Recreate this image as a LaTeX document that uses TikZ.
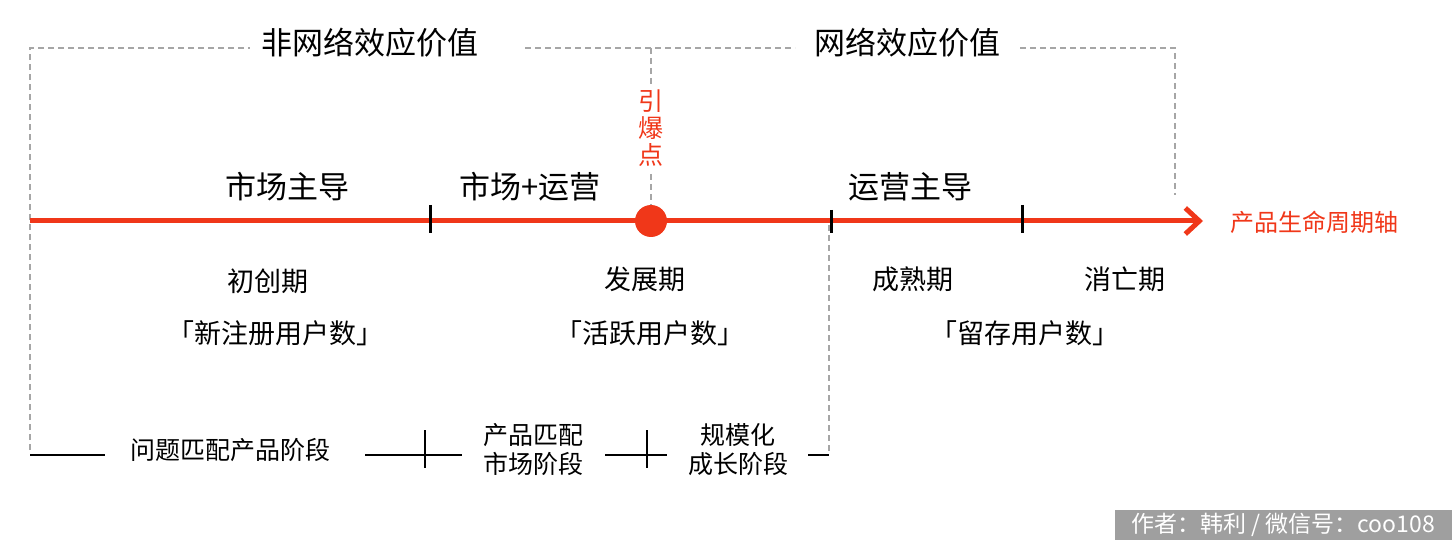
\documentclass[tikz,border=0pt]{standalone}
\usepackage{fontspec}
\setmainfont{Noto Sans CJK SC}
\usetikzlibrary{arrows.meta}
\definecolor{axred}{RGB}{240,55,25}
\tikzset{
 gd/.style={gray!70,dashed,line width=1.3pt,dash pattern=on 6pt off 4pt},
 bl/.style={black,line width=1.3pt},
 tk/.style={black,line width=3pt},
 big/.style={font=\fontsize{31}{34}\selectfont},
 mid/.style={font=\fontsize{27}{30}\selectfont},
 sm/.style={font=\fontsize{25}{29}\selectfont,align=center},
}
\begin{document}
\begin{tikzpicture}[x=1pt,y=-1pt]
\useasboundingbox (0,0) rectangle (1452,540);
% dashed frame
\draw[gd] (30,450) -- (30,48) -- (250,48);
\draw[bl] (30,455) -- (105,455);
\node[big] (nn) at (370,43) {非网络效应价值};
\node[big] (wn) at (907,43) {网络效应价值};
\draw[gd] (525,48) -- (795,48);
\draw[gd] (1020,48) -- (1175,48) -- (1175,195);
\draw[gd] (651,48) -- (651,84);
\draw[gd] (651,174) -- (651,205);
\draw[gd] (829,225) -- (829,452);
\draw[bl] (808,455) -- (829,455);
% axis
\node[axred,font=\fontsize{24}{28}\selectfont] (ax) at (1314,222) {产品生命周期轴};
\coordinate (a0) at (30,221);
\coordinate (a1) at (1203,221);
\draw[axred,line width=5pt,-{Straight Barb[length=14pt,width=26pt,line width=5pt]}] (a0) -- (a1);
\draw[tk] (430,205) -- (430,233);
\draw[tk] (831,210) -- (831,233);
\draw[tk] (1022,205) -- (1022,233);
\node[circle,fill=axred,minimum size=32pt,inner sep=0] (dot) at (651,221) {};
\node[axred,font=\fontsize{25}{28}\selectfont,align=center] (yb) at (651,128) {引\\[-1pt]爆\\[-1pt]点};
% labels
\node[big] (l1) at (287,187) {市场主导};
\node[big] (l2) at (530,187) {市场+运营};
\node[big] (l3) at (910,187) {运营主导};
\node[mid] (p1) at (268,281) {初创期};
\node[mid] (p2) at (645,279) {发展期};
\node[mid] (p3) at (913,279) {成熟期};
\node[mid] (p4) at (1125,279) {消亡期};
\node[mid] (u1) at (275,333) {「新注册用户数」};
\node[mid] (u2) at (650,333) {「活跃用户数」};
\node[mid] (u3) at (1025,333) {「留存用户数」};
% bottom
\node[sm] (b1) at (230,450) {问题匹配产品阶段};
\node[sm] (b2) at (533,450) {产品匹配\\市场阶段};
\node[sm] (b3) at (738,450) {规模化\\成长阶段};
\draw[bl] (365,455) -- (462,455);
\draw[bl] (425,430) -- (425,468);
\draw[bl] (605,455) -- (667,455);
\draw[bl] (647,430) -- (647,468);
% watermark
\fill[gray!75] (1115,510) rectangle (1452,540);
\node[white,font=\fontsize{23}{26}\selectfont] (wm) at (1283,525) {作者：韩利 / 微信号：coo108};
\end{tikzpicture}
\end{document}
